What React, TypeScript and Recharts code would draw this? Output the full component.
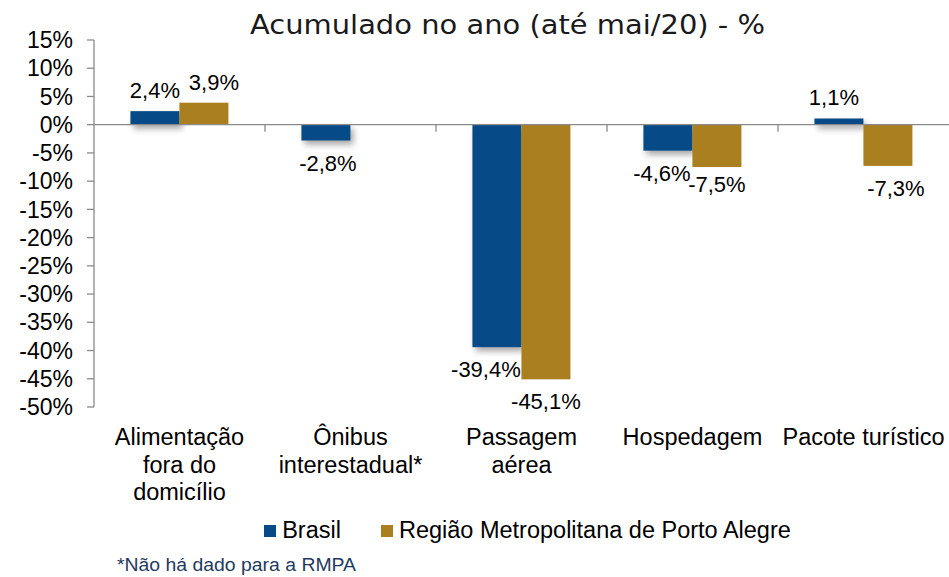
import React from "react";
import {
  BarChart,
  Bar,
  XAxis,
  YAxis,
  ReferenceLine,
  Legend,
  LabelList,
} from "recharts";

const categories = [
  "Alimentação\nfora do\ndomicílio",
  "Ônibus\ninterestadual*",
  "Passagem\naérea",
  "Hospedagem",
  "Pacote turístico",
];
const brasil: (number | null)[] = [2.4, -2.8, -39.4, -4.6, 1.1];
const rmpa: (number | null)[] = [3.9, null, -45.1, -7.5, -7.3];
const yTicks = [15, 10, 5, 0, -5, -10, -15, -20, -25, -30, -35, -40, -45, -50];
const seriesNames = ["Brasil", "Região Metropolitana de Porto Alegre"];
const titleText = "Acumulado no ano (até mai/20) - %";
const footnoteText = "*Não há dado para a RMPA";

const data = categories.map((c, i) => ({
  name: c,
  brasil: brasil[i],
  rmpa: rmpa[i],
}));

// label placement nudges (styling, mimic the original's overlap avoidance)
const LABEL_DX: Record<string, number[]> = {
  brasil: [0, 2, -11, -6, -5],
  rmpa: [10, 0, 0, 8, 13],
};
const LABEL_DY: Record<string, number[]> = {
  brasil: [0, 0, 0, 0, 0],
  rmpa: [0, 0, -5, 0, 0],
};

const BLUE = "#064b88";
const GOLD = "#aa7f20";
const AXIS = "#8a8a8a";
const FONT = "'Liberation Sans', Arial, sans-serif";

const fmt = (v: number) => `${String(v).replace(".", ",")}%`;

const CategoryTick = (props: any) => {
  const { x, y, payload } = props;
  const lines = String(payload.value).split("\n");
  return (
    <text
      x={x}
      y={y}
      textAnchor="middle"
      fontFamily={FONT}
      fontSize={23.5}
      fill="#000"
    >
      {lines.map((l, i) => (
        <tspan key={i} x={x} y={y + 38 + i * 27.5}>
          {l}
        </tspan>
      ))}
    </text>
  );
};

const makeValueLabel = (key: string) => (props: any) => {
  const { x, y, width, height, value, index } = props;
  if (value === null || value === undefined) return null;
  const top = Math.min(y, y + height);
  const bottom = Math.max(y, y + height);
  const cx = x + width / 2 + (LABEL_DX[key][index] || 0);
  const ty = (value >= 0 ? top - 13 : bottom + 30) + (LABEL_DY[key][index] || 0);
  return (
    <text
      x={cx}
      y={ty}
      textAnchor="middle"
      fontFamily={FONT}
      fontSize={22}
      fill="#000"
    >
      {fmt(value)}
    </text>
  );
};

const BrasilLabel = makeValueLabel("brasil");
const RmpaLabel = makeValueLabel("rmpa");

const ShadowBar = (props: any) => {
  const { x, y, width, height, fill } = props;
  if (height === 0 || width === 0) return null;
  const ry = Math.min(y, y + height);
  const rh = Math.abs(height);
  return (
    <rect
      x={x}
      y={ry}
      width={width}
      height={rh}
      fill={fill}
      style={{ filter: "drop-shadow(3px 4px 3px rgba(0,0,0,0.35))" }}
    />
  );
};

const PlainBar = (props: any) => {
  const { x, y, width, height, fill } = props;
  if (height === 0 || width === 0) return null;
  const ry = Math.min(y, y + height);
  const rh = Math.abs(height);
  return <rect x={x} y={ry} width={width} height={rh} fill={fill} />;
};

const ZeroLine = (props: any) => {
  const { x1, y1, x2, y2 } = props;
  const n = categories.length;
  const step = (x2 - x1) / n;
  const ticks = [];
  for (let i = 1; i < n; i++) {
    const tx = x1 + step * i;
    ticks.push(
      <line key={i} x1={tx} y1={y1} x2={tx} y2={y1 + 7} stroke={AXIS} strokeWidth={1.3} />
    );
  }
  return (
    <g>
      <line x1={x1} y1={y1} x2={x2} y2={y2} stroke={AXIS} strokeWidth={1.3} />
      {ticks}
    </g>
  );
};

const LegendContent = () => {
  const items = [
    { name: seriesNames[0], color: BLUE },
    { name: seriesNames[1], color: GOLD },
  ];
  return (
    <div
      style={{
        display: "flex",
        justifyContent: "center",
        alignItems: "center",
        fontFamily: FONT,
        fontSize: 23.5,
        color: "#000",
      }}
    >
      {items.map((it, i) => (
        <div
          key={i}
          style={{ display: "flex", alignItems: "center", marginRight: i === 0 ? 40 : 0 }}
        >
          <div style={{ width: 12, height: 12, background: it.color, marginRight: 6 }} />
          <span>{it.name}</span>
        </div>
      ))}
    </div>
  );
};

export default function App() {
  return (
    <div style={{ position: "absolute", left: 0, top: 0, width: 949, height: 577, background: "#fff" }}>
      <BarChart
        width={949}
        height={577}
        data={data}
        margin={{ top: 40, right: 0, left: 0, bottom: 0 }}
        barCategoryGap="21.3%"
        barGap={0}
      >
        <YAxis
          domain={[-50, 15]}
          ticks={yTicks}
          interval={0}
          width={94}
          tickFormatter={(v: number) => `${v}%`}
          axisLine={{ stroke: AXIS, strokeWidth: 1.3 }}
          tickLine={{ stroke: AXIS, strokeWidth: 1.3 }}
          tickSize={7}
          tickMargin={14}
          tick={{ fontFamily: FONT, fontSize: 23, fill: "#000" }}
          allowDataOverflow
        />
        <XAxis
          dataKey="name"
          height={170}
          axisLine={false}
          tickLine={false}
          tickSize={0}
          tickMargin={0}
          interval={0}
          tick={<CategoryTick />}
        />
        <ReferenceLine y={0} shape={(p: any) => <ZeroLine {...p} />} ifOverflow="visible" />
        <Bar dataKey="brasil" name={seriesNames[0]} fill={BLUE} isAnimationActive={false} shape={<ShadowBar />}>
          <LabelList dataKey="brasil" content={<BrasilLabel />} />
        </Bar>
        <Bar dataKey="rmpa" name={seriesNames[1]} fill={GOLD} isAnimationActive={false} shape={<PlainBar />}>
          <LabelList dataKey="rmpa" content={<RmpaLabel />} />
        </Bar>
        <Legend
          layout="horizontal"
          verticalAlign="middle"
          align="center"
          content={<LegendContent />}
          wrapperStyle={{ top: 517, left: 100, width: 855, height: 32 }}
        />
      </BarChart>
      <svg
        width={949}
        height={577}
        style={{ position: "absolute", left: 0, top: 0, pointerEvents: "none" }}
      >
        <text
          x={250}
          y={34}
          fontFamily="'DejaVu Sans', sans-serif"
          fontSize={27}
          fill="#1a1a1a"
          textLength={515}
          lengthAdjust="spacingAndGlyphs"
        >
          {titleText}
        </text>
        <text x={117} y={571} fontFamily={FONT} fontSize={17.5} fill="#1f3a60" textLength={239} lengthAdjust="spacingAndGlyphs">
          {footnoteText}
        </text>
      </svg>
    </div>
  );
}
